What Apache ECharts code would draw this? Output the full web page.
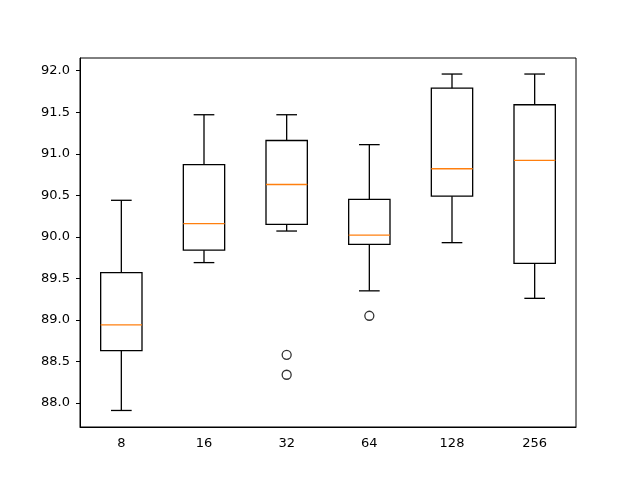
<!DOCTYPE html>
<html>
<head>
    <meta charset="utf-8" />
    <title>Boxplot</title>
    <script src="https://cdn.jsdelivr.net/npm/echarts@6/dist/echarts.min.js"></script>
    <style>
        body { margin: 0; padding: 0; background: #fff; }
        #main { width: 640px; height: 480px; }
    </style>
</head>
<body>
<div id="main"></div>
<script type="text/javascript">
    // Data
    const categories = ['8', '16', '32', '64', '128', '256'];
    // [whisker low, Q1, median, Q3, whisker high]
    const boxData = [
        [87.91, 88.63, 88.94, 89.57, 90.44],
        [89.69, 89.84, 90.16, 90.87, 91.47],
        [90.07, 90.15, 90.63, 91.16, 91.47],
        [89.35, 89.91, 90.02, 90.45, 91.11],
        [89.93, 90.49, 90.82, 91.79, 91.96],
        [89.26, 89.68, 90.92, 91.59, 91.96]
    ];
    // outliers: [category index, value]
    const outliers = [
        [2, 88.58],
        [2, 88.34],
        [3, 89.05]
    ];
    const yTicks = [88.0, 88.5, 89.0, 89.5, 90.0, 90.5, 91.0, 91.5, 92.0];

    const font = 'DejaVu Sans';
    var myChart = echarts.init(document.getElementById('main'));

    // Box drawn in matplotlib style: box, orange median, whiskers with half-width caps
    function renderBox(params, api) {
        const idx = api.value(0);
        const vals = [api.value(1), api.value(2), api.value(3), api.value(4), api.value(5)];
        const pts = vals.map(v => api.coord([idx, v]));
        const bandW = api.size([1, 0])[0];
        const boxW = bandW * 0.5;
        const capW = boxW * 0.5;
        const x = pts[0][0];
        const lineStyle = { stroke: '#000', lineWidth: 1.3, fill: null };
        return {
            type: 'group',
            children: [
                { type: 'line', shape: { x1: x, y1: pts[0][1], x2: x, y2: pts[1][1] }, style: lineStyle },
                { type: 'line', shape: { x1: x, y1: pts[3][1], x2: x, y2: pts[4][1] }, style: lineStyle },
                { type: 'line', shape: { x1: x - capW / 2, y1: pts[0][1], x2: x + capW / 2, y2: pts[0][1] }, style: lineStyle },
                { type: 'line', shape: { x1: x - capW / 2, y1: pts[4][1], x2: x + capW / 2, y2: pts[4][1] }, style: lineStyle },
                {
                    type: 'rect',
                    shape: { x: x - boxW / 2, y: pts[3][1], width: boxW, height: pts[1][1] - pts[3][1] },
                    style: { stroke: '#000', lineWidth: 1.3, fill: 'none' }
                },
                {
                    type: 'line',
                    shape: { x1: x - boxW / 2, y1: pts[2][1], x2: x + boxW / 2, y2: pts[2][1] },
                    style: { stroke: '#ff7f0e', lineWidth: 1.3 }
                }
            ]
        };
    }

    var option = {
        backgroundColor: '#FFFFFF',
        animation: false,
        grid: {
            left: 80,
            right: 64,
            top: 58,
            bottom: 53,
            show: true,
            borderColor: '#000',
            borderWidth: 1,
            backgroundColor: 'transparent'
        },
        xAxis: {
            type: 'category',
            data: categories,
            boundaryGap: true,
            axisLine: { lineStyle: { color: '#000' } },
            axisTick: { alignWithLabel: true, length: 4, lineStyle: { color: '#000' } },
            axisLabel: { color: '#000', fontFamily: font, fontSize: 13, margin: 10 },
            splitLine: { show: false }
        },
        yAxis: {
            type: 'value',
            min: 87.711,
            max: 92.153,
            axisLine: { show: true, lineStyle: { color: '#000' } },
            axisTick: { show: true, length: 4, customValues: yTicks, lineStyle: { color: '#000' } },
            axisLabel: {
                color: '#000', fontFamily: font, fontSize: 13, margin: 10,
                customValues: yTicks,
                formatter: v => v.toFixed(1)
            },
            splitLine: { show: false }
        },
        series: [
            {
                type: 'custom',
                renderItem: renderBox,
                encode: { x: 0, y: [1, 2, 3, 4, 5] },
                data: boxData.map((d, i) => [i].concat(d))
            },
            {
                type: 'scatter',
                data: outliers,
                symbol: 'circle',
                symbolSize: 9,
                itemStyle: { color: '#fff', borderColor: '#000', borderWidth: 1.3 }
            }
        ]
    };

    myChart.setOption(option);
</script>
</body>
</html>
